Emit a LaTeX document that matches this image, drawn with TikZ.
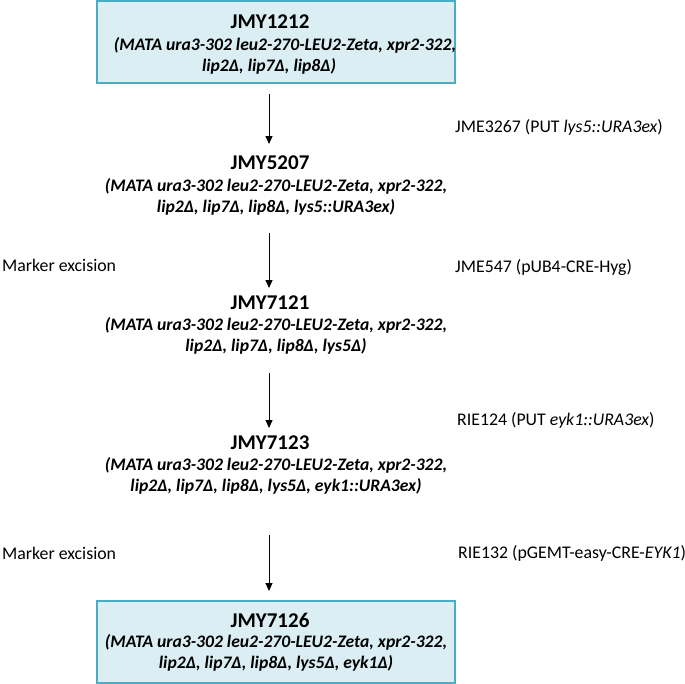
\documentclass[tikz,border=0pt]{standalone}
\usepackage{fontspec}
\setmainfont{Carlito}
\usetikzlibrary{arrows.meta}
\begin{document}
\begin{tikzpicture}[x=1pt,y=-1pt,
  boxst/.style={draw=boxline,fill=boxfill,line width=1.4pt,minimum width=358pt,minimum height=82pt,inner sep=0pt},
  ttl/.style={font=\fontsize{21}{24}\selectfont\bfseries,inner sep=0pt},
  geno/.style={font=\fontsize{17.6}{20.5}\selectfont\bfseries\itshape,align=center,inner sep=0pt},
  lbl/.style={font=\fontsize{17.8}{20}\selectfont,anchor=west,inner sep=0pt},
  arr/.style={-{Triangle[length=8pt,width=7pt]},line width=1pt}]
\definecolor{boxline}{HTML}{4BACC6}
\definecolor{boxfill}{HTML}{DAEEF3}
\useasboundingbox (0,0) rectangle (685,683);
% boxes
\node[boxst] (b1) at (276,42) {};
\node[boxst] (b5) at (276,642) {};
% titles and genotypes
\node[ttl] (t1) at (270,22) {JMY1212};
\node[geno] (g1) at (269,56) {\hspace*{32pt}(MATA ura3-302 leu2-270-LEU2-Zeta, xpr2-322,\\ lip2Δ, lip7Δ, lip8Δ)};
\node[ttl] (t2) at (270,163) {JMY5207};
\node[geno] (g2) at (276,197) {(MATA ura3-302 leu2-270-LEU2-Zeta, xpr2-322,\\ lip2Δ, lip7Δ, lip8Δ, lys5::URA3ex)};
\node[ttl] (t3) at (270,303) {JMY7121};
\node[geno] (g3) at (276,336) {(MATA ura3-302 leu2-270-LEU2-Zeta, xpr2-322,\\ lip2Δ, lip7Δ, lip8Δ, lys5Δ)};
\node[ttl] (t4) at (270,443) {JMY7123};
\node[geno] (g4) at (276,476) {(MATA ura3-302 leu2-270-LEU2-Zeta, xpr2-322,\\ lip2Δ, lip7Δ, lip8Δ, lys5Δ, eyk1::URA3ex)};
\node[ttl] (t5) at (270,620) {JMY7126};
\node[geno] (g5) at (276,653) {(MATA ura3-302 leu2-270-LEU2-Zeta, xpr2-322,\\ lip2Δ, lip7Δ, lip8Δ, lys5Δ, eyk1Δ)};
% arrow endpoints
\coordinate (a1s) at (269,94); \coordinate (a1e) at (269,144);
\coordinate (a2s) at (269,233); \coordinate (a2e) at (269,288);
\coordinate (a3s) at (269,373); \coordinate (a3e) at (269,428);
\coordinate (a4s) at (269,535); \coordinate (a4e) at (269,591);
\draw[arr] (a1s) -- (a1e);
\draw[arr] (a2s) -- (a2e);
\draw[arr] (a3s) -- (a3e);
\draw[arr] (a4s) -- (a4e);
% labels
\node[lbl] (l1) at (455,127) {JME3267 (PUT \textit{lys5::URA3ex})};
\node[lbl] (l2) at (455,268) {JME547 (pUB4-CRE-Hyg)};
\node[lbl] (l3) at (457,420) {RIE124 (PUT \textit{eyk1::URA3ex})};
\node[lbl] (l4) at (458,553) {RIE132 (pGEMT-easy-CRE-\textit{EYK1})};
\node[lbl] (m1) at (2,265) {Marker excision};
\node[lbl] (m2) at (2,553) {Marker excision};
\end{tikzpicture}
\end{document}
